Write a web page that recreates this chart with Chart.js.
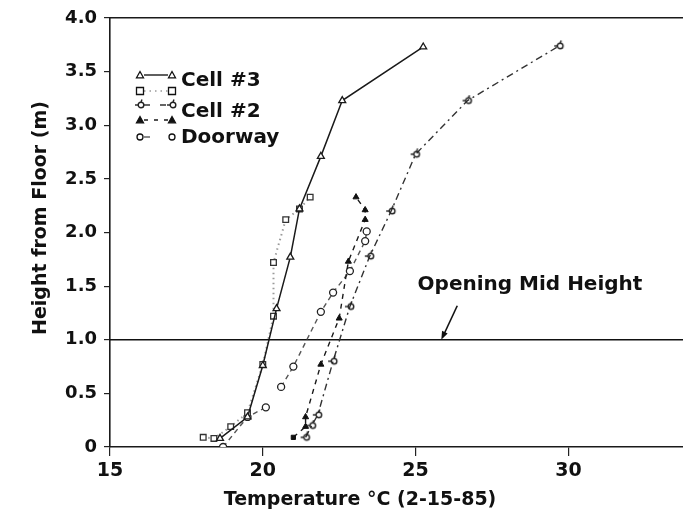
<!DOCTYPE html>
<html>
<head>
<meta charset="utf-8">
<script src="https://cdn.jsdelivr.net/npm/chart.js@4.4.1/dist/chart.umd.min.js"></script>
<style>
  html, body { margin: 0; padding: 0; background: #ffffff; overflow: hidden; }
  #wrap { width: 683px; height: 526px; position: relative; overflow: hidden; }
  #c { display: block; }
</style>
</head>
<body>
<div id="wrap"><canvas id="c" width="689" height="526"></canvas></div>
<script>
// ---- data ----
const cell3Temp    = [18.6, 19.5, 20.0, 20.45, 20.9, 21.2, 21.9, 22.6, 25.25];
const cell3Height  = [0.08, 0.28, 0.76, 1.29, 1.77, 2.22, 2.71, 3.23, 3.73];

const cell3bTemp   = [18.05, 18.4, 18.95, 19.5, 20.0, 20.35, 20.35, 20.75, 21.2, 21.55];
const cell3bHeight = [0.09, 0.08, 0.19, 0.32, 0.77, 1.22, 1.72, 2.12, 2.22, 2.33];

const cell2Temp    = [21.4, 21.6, 21.8, 22.3, 22.85, 23.5, 24.2, 25.0, 26.7, 29.7];
const cell2Height  = [0.09, 0.2, 0.3, 0.8, 1.31, 1.78, 2.2, 2.73, 3.23, 3.74];

const cell2bTemp   = [21.0, 21.4, 21.4, 21.9, 22.5, 22.8, 23.35, 23.35, 23.05];
const cell2bHeight = [0.09, 0.19, 0.28, 0.77, 1.2, 1.73, 2.12, 2.21, 2.33];

const doorTemp     = [18.7, 19.5, 20.1, null, 20.6, 21.0, 21.9, 22.3, 22.85, 23.35, 23.4];
const doorHeight   = [0.0, 0.28, 0.37, null, 0.56, 0.75, 1.26, 1.44, 1.64, 1.92, 2.01];

const midHeight = 1.0;
const xTicks = [15, 20, 25, 30];
const yTicks = [0, 0.5, 1.0, 1.5, 2.0, 2.5, 3.0, 3.5, 4.0];
const xMin = 15, xMax = 33.77, yMin = 0, yMax = 4.0;

const legendLabels = ['Cell #3', 'Cell #2', 'Doorway'];
const xTitle = 'Temperature \u00B0C (2-15-85)';
const yTitle = 'Height from Floor (m)';
const midLabel = 'Opening Mid Height';

function pts(xs, ys) {
  return xs.map((x, i) => (x === null ? {x: null, y: null} : {x: x, y: ys[i]}));
}

// custom "tailed circle" marker used for the Cell #2 open series
function tailMarker() {
  const c = document.createElement('canvas');
  c.width = 12; c.height = 12;
  const g = c.getContext('2d');
  g.strokeStyle = '#222'; g.lineWidth = 1.4;
  g.beginPath(); g.arc(7, 6, 2.8, 0, Math.PI * 2); g.stroke();
  g.beginPath(); g.moveTo(1, 6); g.lineTo(4.5, 6); g.stroke();
  g.beginPath(); g.moveTo(7, 3); g.lineTo(8, 0.5); g.stroke();
  return c;
}
const tailImg = tailMarker();

const FONT = 'DejaVu Sans';

const decorPlugin = {
  id: 'decor',
  afterDraw(chart) {
    const ctx = chart.ctx;
    const xs = chart.scales.x, ys = chart.scales.y;
    ctx.save();
    // axis titles
    ctx.fillStyle = '#111';
    ctx.font = 'bold 19px "' + FONT + '"';
    ctx.textAlign = 'center';
    ctx.textBaseline = 'middle';
    ctx.fillText(xTitle, 360, 500);
    ctx.save();
    ctx.translate(41, 218);
    ctx.rotate(-Math.PI / 2);
    ctx.fillText(yTitle, 0, 0);
    ctx.restore();

    // Opening Mid Height label and arrow
    ctx.font = 'bold 20px "' + FONT + '"';
    ctx.fillText(midLabel, 530, 285);
    const tipX = xs.getPixelForValue(25.84), tipY = ys.getPixelForValue(midHeight);
    const tailX = tipX + 16, tailY = tipY - 34;
    ctx.strokeStyle = '#111'; ctx.lineWidth = 1.6;
    ctx.beginPath(); ctx.moveTo(tailX, tailY); ctx.lineTo(tipX + 2, tipY - 4); ctx.stroke();
    const ang = Math.atan2(tipY - tailY, tipX - tailX);
    ctx.fillStyle = '#111';
    ctx.beginPath();
    ctx.moveTo(tipX, tipY);
    ctx.lineTo(tipX - 9 * Math.cos(ang - 0.35), tipY - 9 * Math.sin(ang - 0.35));
    ctx.lineTo(tipX - 9 * Math.cos(ang + 0.35), tipY - 9 * Math.sin(ang + 0.35));
    ctx.closePath(); ctx.fill();

    // legend
    const L = 140, R = 172;
    const rows = [
      {y: 75, ds: 0, dash: []},
      {y: 91, ds: 1, dash: [1.5, 4]},
      {y: 105, ds: 2, dash: [6, 10]},
      {y: 120, ds: 3, dash: [4, 6]},
      {y: 137, ds: 4, dash: [6, 20]}
    ];
    rows.forEach(r => {
      const d = chart.data.datasets[r.ds];
      ctx.save();
      ctx.strokeStyle = d.borderColor; ctx.lineWidth = 1.4;
      ctx.setLineDash(r.dash);
      ctx.beginPath(); ctx.moveTo(L + 4, r.y); ctx.lineTo(R - 4, r.y); ctx.stroke();
      ctx.restore();
      [L, R].forEach(px => drawMarker(ctx, d, px, r.y));
    });
    ctx.fillStyle = '#111';
    ctx.font = 'bold 20px "' + FONT + '"';
    ctx.textAlign = 'left';
    ctx.fillText(legendLabels[0], 181, 81);
    ctx.fillText(legendLabels[1], 181, 112);
    ctx.fillText(legendLabels[2], 181, 138);
    ctx.restore();
  }
};

function drawMarker(ctx, d, x, y) {
  ctx.save();
  ctx.setLineDash([]);
  ctx.lineWidth = 1.3;
  ctx.strokeStyle = '#111';
  ctx.fillStyle = d.pointBackgroundColor;
  const r = 3.5;
  const style = d.legendStyle;
  if (style === 'triangle') {
    ctx.beginPath();
    ctx.moveTo(x, y - r); ctx.lineTo(x + r, y + r * 0.8); ctx.lineTo(x - r, y + r * 0.8);
    ctx.closePath(); ctx.fill(); ctx.stroke();
  } else if (style === 'rect') {
    ctx.beginPath(); ctx.rect(x - r, y - r, 2 * r, 2 * r); ctx.fill(); ctx.stroke();
  } else if (style === 'circle') {
    ctx.beginPath(); ctx.arc(x, y, 3, 0, Math.PI * 2); ctx.fill(); ctx.stroke();
  } else {
    ctx.drawImage(tailImg, x - 6, y - 6);
  }
  ctx.restore();
}

const ctx = document.getElementById('c').getContext('2d');
new Chart(ctx, {
  type: 'scatter',
  data: {
    datasets: [
      { label: 'Cell #3', data: pts(cell3Temp, cell3Height), showLine: true, legendStyle: 'triangle',
        borderColor: '#1a1a1a', borderWidth: 1.5, pointStyle: 'triangle', pointRadius: 4,
        pointBackgroundColor: '#ffffff', pointBorderColor: '#1a1a1a', pointBorderWidth: 1.3 },
      { label: 'Cell #3 (b)', data: pts(cell3bTemp, cell3bHeight), showLine: true, legendStyle: 'rect',
        borderColor: '#9a9a9a', borderWidth: 2, borderDash: [1.5, 3.5], pointStyle: 'rect', pointRadius: 4,
        pointBackgroundColor: '#ffffff', pointBorderColor: '#333333', pointBorderWidth: 1.3 },
      { label: 'Cell #2', data: pts(cell2Temp, cell2Height), showLine: true, legendStyle: 'tail',
        borderColor: '#333333', borderWidth: 1.4, borderDash: [7, 4, 2, 4], pointStyle: tailImg,
        pointBackgroundColor: '#ffffff', pointBorderColor: '#333333' },
      { label: 'Cell #2 (b)', data: pts(cell2bTemp, cell2bHeight), showLine: true, legendStyle: 'triangle',
        borderColor: '#1a1a1a', borderWidth: 1.4, borderDash: [5, 5],
        pointStyle: c => (c.dataIndex === 0 ? 'rect' : 'triangle'),
        pointRadius: c => (c.dataIndex === 0 ? 3 : 3.5),
        pointBackgroundColor: '#111111', pointBorderColor: '#111111', pointBorderWidth: 1 },
      { label: 'Doorway', data: pts(doorTemp, doorHeight), showLine: true, spanGaps: false, legendStyle: 'circle',
        borderColor: '#555555', borderWidth: 1.4, borderDash: [5, 4], pointStyle: 'circle', pointRadius: 3.5,
        pointBackgroundColor: '#ffffff', pointBorderColor: '#222222', pointBorderWidth: 1.3 },
      { label: 'Opening Mid Height', data: [{x: xMin, y: midHeight}, {x: xMax, y: midHeight}], showLine: true,
        borderColor: '#111111', borderWidth: 1.6, pointRadius: 0 }
    ]
  },
  options: {
    responsive: false,
    animation: false,
    layout: { padding: { top: 18, right: 0, left: 0, bottom: 0 } },
    plugins: { legend: { display: false }, tooltip: { enabled: false } },
    scales: {
      x: {
        type: 'linear', position: 'bottom', min: xMin, max: xMax,
        afterFit: s => { s.height = 79; s.paddingRight = 0; s.paddingLeft = 0; },
        afterBuildTicks: s => { s.ticks = xTicks.map(v => ({value: v})); },
        ticks: { autoSkip: false, maxRotation: 0, padding: 4, color: '#111',
                 font: { family: FONT, size: 19, weight: 'bold' } },
        grid: { drawOnChartArea: false, tickLength: 9, color: '#222', lineWidth: 1.2 },
        border: { color: '#1a1a1a', width: 1.6 }
      },
      x2: {
        type: 'linear', position: 'top', min: xMin, max: xMax,
        afterFit: s => { s.height = 0; s.paddingRight = 0; s.paddingLeft = 0; },
        ticks: { display: false },
        grid: { drawOnChartArea: false, drawTicks: false },
        border: { display: true, color: '#1a1a1a', width: 1.6 }
      },
      y: {
        type: 'linear', position: 'left', min: yMin, max: yMax,
        afterFit: s => { s.width = 110; s.paddingTop = 0; s.paddingBottom = 0; },
        afterBuildTicks: s => { s.ticks = yTicks.map(v => ({value: v})); },
        ticks: { autoSkip: false, padding: 7, color: '#111',
                 font: { family: FONT, size: 18, weight: 'bold' },
                 callback: v => (v === 0 ? '0' : Number(v).toFixed(1)) },
        grid: { drawOnChartArea: false, tickLength: 6, color: '#222', lineWidth: 1.2 },
        border: { color: '#1a1a1a', width: 1.6 }
      }
    }
  },
  plugins: [decorPlugin]
});
</script>
</body>
</html>
